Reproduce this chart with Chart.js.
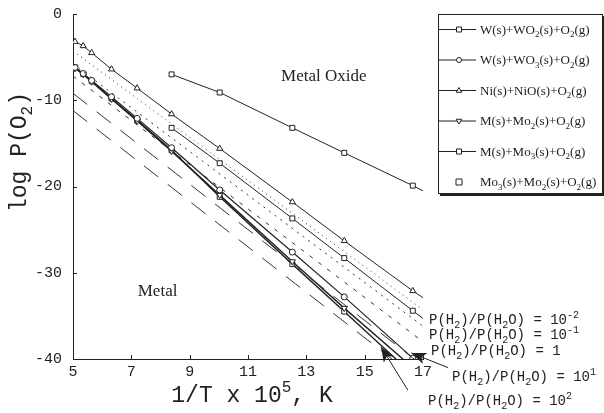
<!DOCTYPE html>
<html lang="en">
<head>
<meta charset="UTF-8">
<title>log P(O2) vs 1/T</title>
<style>
  body { margin: 0; background: #fff; }
  #wrap { position: relative; width: 604px; height: 413px; }
</style>
<script src="https://cdn.jsdelivr.net/npm/chart.js"></script>
</head>
<body>
<div id="wrap"><canvas id="chart" width="604" height="413"></canvas></div>
<script>
// 1/T of the tabulated temperatures (last entry only carries the line to the axis end)
const invT = [5.07, 5.35, 5.64, 6.32, 7.2, 8.38, 10.03, 12.52, 14.3, 16.65, 17];
const niNiO  = [-3.2, -3.7, -4.5, -6.4, -8.6, -11.6, -15.6, -21.8, -26.3, -32.1, -32.9];
const wWO3   = [-6.2, -6.9, -7.7, -9.6, -12.1, -15.5, -20.4, -27.6, -32.8, -39.9, -41.0];
const wWO2   = [-6.2, -6.95, -7.8, -9.8, -12.3, -15.8, -21.2, -29.0, -34.5, -41.8, -42.9];
const moMoO2 = [-6.3, -7.0, -7.85, -9.85, -12.4, -15.9, -21.0, -28.7, -34.1, -41.0, -42.1];

// molybdenum oxide data only below 1200 K
const invTMo   = [8.38, 10.03, 12.52, 14.3, 16.65, 17];
const moMoO3   = [-13.2, -17.3, -23.7, -28.3, -34.4, -35.3];
const moO3MoO2 = [-7.0, -9.1, -13.2, -16.1, -19.9, -20.5];

// P(H2)/P(H2O) iso-ratio lines
const ratioX    = [5, 17];
const ratio1em2 = [-4.3, -34.3];
const ratio1em1 = [-5.8, -36.2];
const ratio1    = [-7.2, -38.0];
const ratio1e1  = [-9.2, -40.8];
const ratio1e2  = [-11.2, -42.8];

const xTicks = [5, 7, 9, 11, 13, 15, 17];
const yTicks = [-40, -30, -20, -10, 0];

const legendNames = [
  'W(s)+WO_2(s)+O_2(g)',
  'W(s)+WO_3(s)+O_2(g)',
  'Ni(s)+NiO(s)+O_2(g)',
  'M(s)+Mo_2(s)+O_2(g)',
  'M(s)+Mo_3(s)+O_2(g)',
  'Mo_3(s)+Mo_2(s)+O_2(g)'
];

const ratioNames = [
  'P(H_2)/P(H_2O) = 10^{-2}',
  'P(H_2)/P(H_2O) = 10^{-1}',
  'P(H_2)/P(H_2O) = 1',
  'P(H_2)/P(H_2O) = 10^1',
  'P(H_2)/P(H_2O) = 10^2'
];

const pts = (xs, ys) => xs.map((x, i) => ({ x: x, y: ys[i] }));
const INK = '#222';

// markers hidden at the line end point and below the axis
const radius = r => ctx => (ctx.raw && (ctx.raw.x >= 17 || ctx.raw.y < -40)) ? 0 : r;

function series(data, style, r, rot, width) {
  return {
    data: data, showLine: true, borderColor: INK, borderWidth: width || 1,
    pointStyle: style, pointRotation: rot || 0, pointRadius: radius(r),
    pointBackgroundColor: '#fff', pointBorderColor: INK, pointBorderWidth: 1
  };
}
function ratioLine(ys, dash) {
  return {
    data: pts(ratioX, ys), showLine: true, borderColor: '#333', borderWidth: 1,
    borderDash: dash, pointRadius: 0
  };
}

const datasets = [
  ratioLine(ratio1em2, [1, 4]),
  ratioLine(ratio1em1, [2, 5]),
  ratioLine(ratio1, [4, 7]),
  ratioLine(ratio1e1, [18, 12]),
  ratioLine(ratio1e2, [18, 12]),
  series(pts(invT, niNiO), 'triangle', 3.5),
  series(pts(invTMo, moMoO3), 'rect', 3.5),
  series(pts(invTMo, moO3MoO2), 'rect', 3.5),
  series(pts(invT, wWO3), 'circle', 3, 0, 1.2),
  series(pts(invT, moMoO2), 'triangle', 3.5, 180, 1.4),
  series(pts(invT, wWO2), 'rect', 3.5, 0, 1.4)
];

// small rich-text helper: _x / _{..} subscript, ^x / ^{..} superscript
function parseRich(s) {
  const out = [];
  let i = 0;
  while (i < s.length) {
    const c = s[i];
    if (c === '_' || c === '^') {
      const mode = c === '_' ? -1 : 1;
      let t;
      if (s[i + 1] === '{') { const j = s.indexOf('}', i); t = s.slice(i + 2, j); i = j + 1; }
      else { t = s[i + 1]; i += 2; }
      out.push({ t: t, mode: mode });
    } else {
      let j = i;
      while (j < s.length && s[j] !== '_' && s[j] !== '^') j++;
      out.push({ t: s.slice(i, j), mode: 0 });
      i = j;
    }
  }
  return out;
}
function drawRich(ctx, s, x, y, size, family, align) {
  const parts = parseRich(s);
  const small = Math.round(size * 0.68);
  const fontOf = p => (p.mode ? small : size) + 'px ' + family;
  let w = 0;
  parts.forEach(p => { ctx.font = fontOf(p); p.w = ctx.measureText(p.t).width; w += p.w; });
  let cx = align === 'center' ? x - w / 2 : x;
  ctx.textAlign = 'left';
  ctx.textBaseline = 'alphabetic';
  parts.forEach(p => {
    ctx.font = fontOf(p);
    const dy = p.mode === -1 ? size * 0.28 : p.mode === 1 ? -size * 0.45 : 0;
    ctx.fillText(p.t, cx, y + dy);
    cx += p.w;
  });
}

function marker(ctx, style, x, y, r, rot) {
  ctx.save();
  ctx.translate(x, y);
  ctx.rotate((rot || 0) * Math.PI / 180);
  ctx.beginPath();
  if (style === 'rect') ctx.rect(-r, -r, 2 * r, 2 * r);
  else if (style === 'circle') ctx.arc(0, 0, r, 0, Math.PI * 2);
  else { ctx.moveTo(0, -r * 1.2); ctx.lineTo(r * 1.1, r * 0.7); ctx.lineTo(-r * 1.1, r * 0.7); ctx.closePath(); }
  ctx.fillStyle = '#fff';
  ctx.fill();
  ctx.stroke();
  ctx.restore();
}

function arrow(ctx, x1, y1, x2, y2) {
  const a = Math.atan2(y2 - y1, x2 - x1);
  ctx.beginPath();
  ctx.moveTo(x1, y1);
  ctx.lineTo(x2, y2);
  ctx.stroke();
  ctx.save();
  ctx.translate(x2, y2);
  ctx.rotate(a);
  ctx.beginPath();
  ctx.moveTo(0, 0);
  ctx.lineTo(-15, -6);
  ctx.lineTo(-11, 0);
  ctx.lineTo(-15, 6);
  ctx.closePath();
  ctx.fill();
  ctx.restore();
}

const legendItems = [
  { style: 'rect', r: 2.5, line: true },
  { style: 'circle', r: 2.5, line: true },
  { style: 'triangle', r: 2.5, line: true },
  { style: 'triangle', r: 2.5, rot: 180, line: true },
  { style: 'rect', r: 2.5, line: true },
  { style: 'rect', r: 3, line: false }
];

const extras = {
  id: 'extras',
  afterDraw(chart) {
    const ctx = chart.ctx;
    const xs = chart.scales.x, ys = chart.scales.y;
    const area = chart.chartArea;
    ctx.save();
    ctx.strokeStyle = INK;
    ctx.fillStyle = INK;
    ctx.lineWidth = 1;

    // inward tick marks
    ctx.beginPath();
    xTicks.slice(1).forEach(v => {
      const px = Math.round(xs.getPixelForValue(v)) + 0.5;
      ctx.moveTo(px, area.bottom); ctx.lineTo(px, area.bottom - 4);
    });
    yTicks.slice(1).forEach(v => {
      const py = Math.round(ys.getPixelForValue(v)) + 0.5;
      ctx.moveTo(area.left, py); ctx.lineTo(area.left + 4, py);
    });
    ctx.stroke();

    // axis titles
    drawRich(ctx, '1/T x 10^5, K', 252, 402, 23, '"Liberation Mono", monospace', 'center');
    ctx.save();
    ctx.translate(26, 152);
    ctx.rotate(-Math.PI / 2);
    drawRich(ctx, 'log P(O_2)', 0, 0, 23, '"Liberation Mono", monospace', 'center');
    ctx.restore();

    // region names
    ctx.font = '17px "Liberation Serif", serif';
    ctx.textAlign = 'center';
    ctx.textBaseline = 'middle';
    ctx.fillText('Metal Oxide', xs.getPixelForValue(13.6), ys.getPixelForValue(-7.3));
    ctx.fillText('Metal', xs.getPixelForValue(7.9), ys.getPixelForValue(-32.2));

    // iso-ratio labels
    const labelPos = [[429, 324], [429, 339], [431, 355], [452, 381], [428, 405]];
    ratioNames.forEach((t, i) => {
      drawRich(ctx, t, labelPos[i][0], labelPos[i][1], 14, '"Liberation Mono", monospace', 'left');
    });
    arrow(ctx, xs.getPixelForValue(17.86), ys.getPixelForValue(-41.0),
               xs.getPixelForValue(16.6), ys.getPixelForValue(-39.3));
    arrow(ctx, xs.getPixelForValue(16.48), ys.getPixelForValue(-43.6),
               xs.getPixelForValue(15.56), ys.getPixelForValue(-38.6));

    // legend box
    const bx = 438, by = 14, bw = 164, bh = 179;
    ctx.fillStyle = '#fff';
    ctx.fillRect(bx, by, bw, bh);
    ctx.strokeRect(bx + 0.5, by + 0.5, bw, bh);
    ctx.fillStyle = INK;
    ctx.fillRect(bx + 2, by + bh, bw, 3);
    ctx.fillRect(bx + bw, by + 2, 2, bh + 1);
    legendNames.forEach((name, i) => {
      const y = 29 + i * 30.5;
      const it = legendItems[i];
      if (it.line) {
        ctx.beginPath();
        ctx.moveTo(bx + 1, y + 0.5); ctx.lineTo(bx + 38, y + 0.5);
        ctx.stroke();
      }
      marker(ctx, it.style, bx + 21, y + 0.5, it.r, it.rot);
      ctx.fillStyle = INK;
      drawRich(ctx, name, 480, y + 4.5, 13, '"Liberation Serif", serif', 'left');
    });
    ctx.restore();
  }
};

new Chart(document.getElementById('chart'), {
  type: 'scatter',
  data: { datasets: datasets },
  options: {
    responsive: false,
    animation: false,
    events: [],
    layout: { padding: { left: 0, top: 14, right: 181, bottom: 0 }, autoPadding: false },
    plugins: { legend: { display: false }, tooltip: { enabled: false } },
    scales: {
      x: {
        type: 'linear', min: 5, max: 17,
        afterFit: s => { s.height = 54; },
        afterBuildTicks: s => { s.ticks = xTicks.map(v => ({ value: v })); },
        grid: { display: false },
        border: { color: INK, width: 1 },
        ticks: { color: INK, padding: -4, maxRotation: 0, font: { family: '"Liberation Mono", monospace', size: 15 } }
      },
      y: {
        type: 'linear', min: -40, max: 0,
        afterFit: s => { s.width = 73; },
        afterBuildTicks: s => { s.ticks = yTicks.map(v => ({ value: v })); },
        grid: { display: false },
        border: { color: INK, width: 1 },
        ticks: { color: INK, padding: 3, font: { family: '"Liberation Mono", monospace', size: 15 } }
      }
    }
  },
  plugins: [extras]
});
</script>
</body>
</html>
